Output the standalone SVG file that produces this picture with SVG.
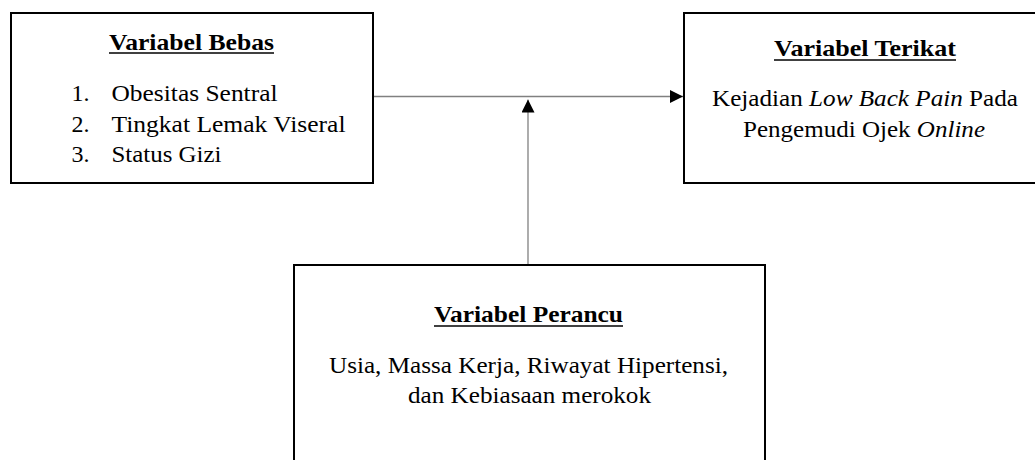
<svg xmlns="http://www.w3.org/2000/svg" width="1035" height="460" viewBox="0 0 1035 460">
<style>
.box{fill:#fff;stroke:#000;stroke-width:2}
.t{font-family:"Liberation Serif","Times New Roman",serif;font-size:24px;fill:#000}
.b{font-weight:bold}
.i{font-style:italic}
.ul{stroke:#000;stroke-width:1.5}
.conn{stroke:#808080;stroke-width:1.3;fill:none}
</style>
<defs>
<marker id="arr" markerUnits="userSpaceOnUse" markerWidth="13" markerHeight="13" refX="13" refY="6.5" orient="auto">
<path d="M0,0 L13,6.5 L0,13 z" fill="#000"/>
</marker>
</defs>
<g id="connectors">
<line class="conn" x1="374" y1="96.5" x2="683" y2="96.5" marker-end="url(#arr)"/>
<line class="conn" x1="528" y1="264" x2="528" y2="99.5" marker-end="url(#arr)"/>
</g>
<g id="variabel-bebas">
<rect class="box" x="11" y="13" width="362" height="170"/>
<text class="t b" x="109" y="50" textLength="165" lengthAdjust="spacingAndGlyphs">Variabel Bebas</text>
<line class="ul" x1="109" y1="53" x2="274" y2="53"/>
<text class="t" x="71.5" y="101">1.</text>
<text class="t" x="111.5" y="101" textLength="166" lengthAdjust="spacingAndGlyphs">Obesitas Sentral</text>
<text class="t" x="71.5" y="131.5">2.</text>
<text class="t" x="111.5" y="131.5" textLength="234" lengthAdjust="spacingAndGlyphs">Tingkat Lemak Viseral</text>
<text class="t" x="71.5" y="161.5">3.</text>
<text class="t" x="111.5" y="161.5" textLength="110" lengthAdjust="spacingAndGlyphs">Status Gizi</text>
</g>
<g id="variabel-terikat">
<rect class="box" x="684" y="13" width="360" height="170"/>
<text class="t b" x="774" y="56" textLength="182" lengthAdjust="spacingAndGlyphs">Variabel Terikat</text>
<line class="ul" x1="774" y1="60" x2="956" y2="60"/>
<text class="t" x="712" y="105.5" textLength="306" lengthAdjust="spacingAndGlyphs">Kejadian <tspan class="i">Low Back Pain</tspan> Pada</text>
<text class="t" x="743" y="136.5" textLength="242" lengthAdjust="spacingAndGlyphs">Pengemudi Ojek <tspan class="i">Online</tspan></text>
</g>
<g id="variabel-perancu">
<rect class="box" x="294" y="265" width="471" height="210"/>
<text class="t b" x="434" y="321.5" textLength="189" lengthAdjust="spacingAndGlyphs">Variabel Perancu</text>
<line class="ul" x1="434" y1="326" x2="623" y2="326"/>
<text class="t" x="329" y="372.5" textLength="399" lengthAdjust="spacingAndGlyphs">Usia, Massa Kerja, Riwayat Hipertensi,</text>
<text class="t" x="408" y="402.5" textLength="243" lengthAdjust="spacingAndGlyphs">dan Kebiasaan merokok</text>
</g>
</svg>
